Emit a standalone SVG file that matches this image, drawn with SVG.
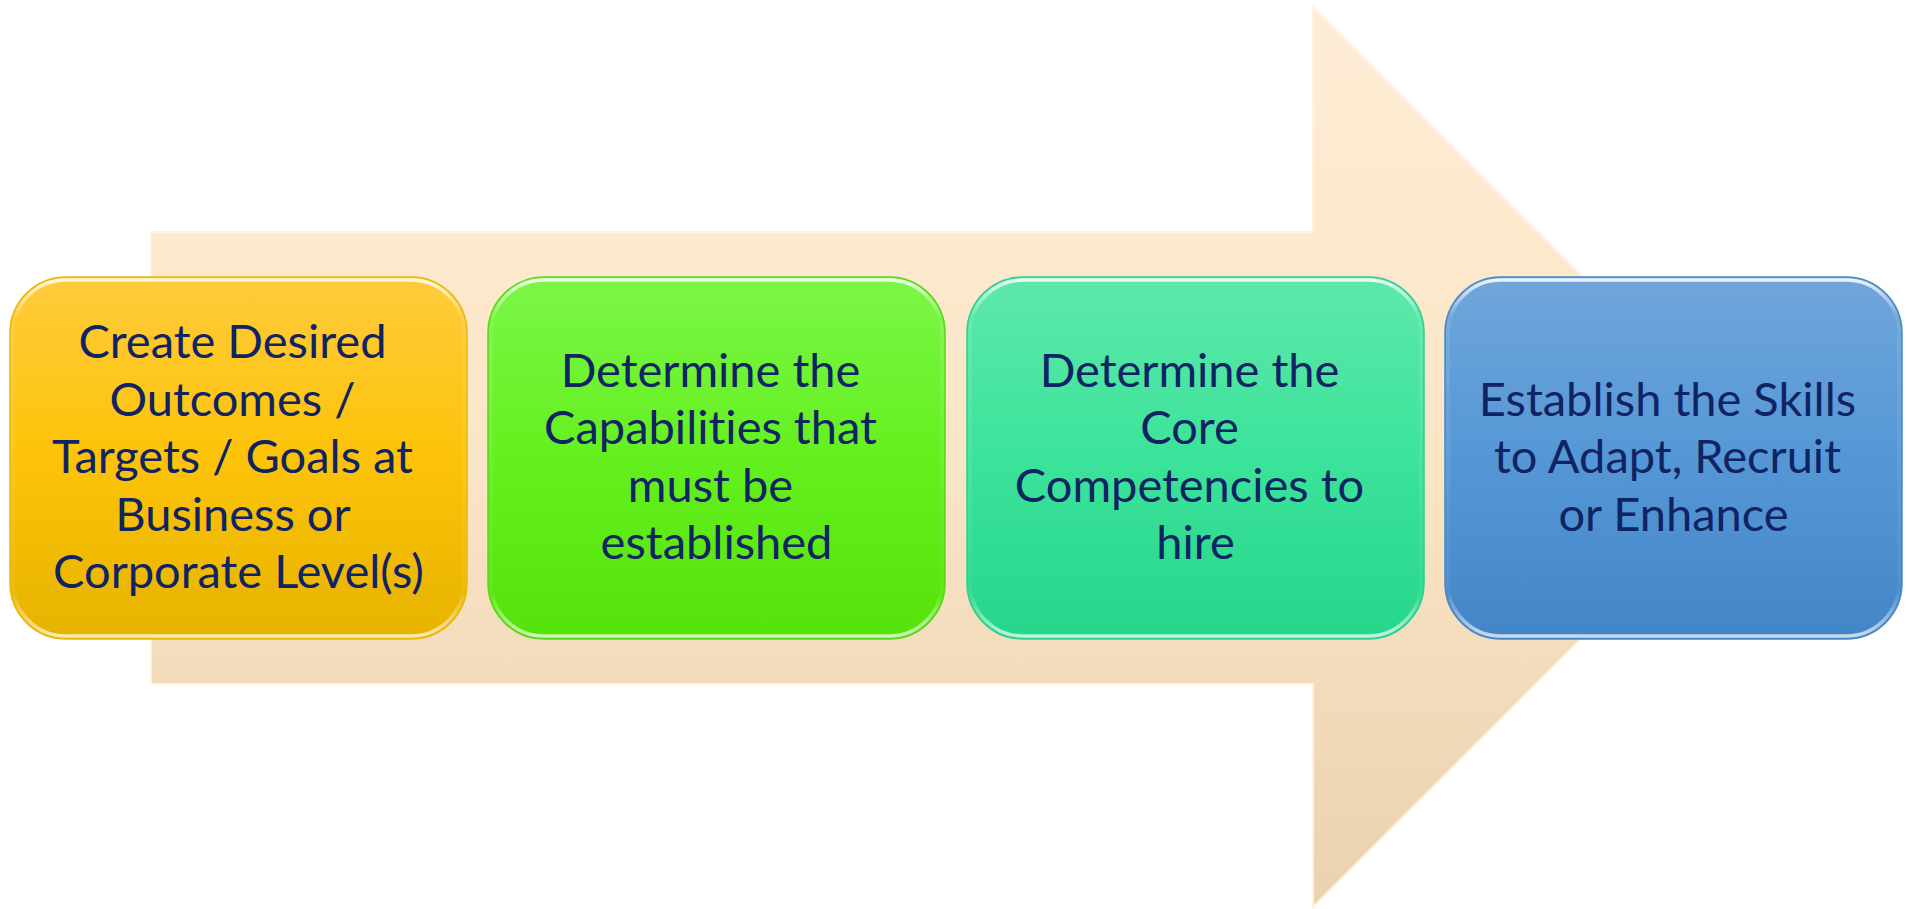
<svg xmlns="http://www.w3.org/2000/svg" width="1907" height="909" viewBox="0 0 1907 909">
  <defs>
    <linearGradient id="arrowFill" x1="0" y1="0" x2="0" y2="1">
      <stop offset="0" stop-color="#FEEDD5"/>
      <stop offset="0.5" stop-color="#FBE5C7"/>
      <stop offset="1" stop-color="#EAD2AF"/>
    </linearGradient>
    <linearGradient id="gOrange" x1="0" y1="0" x2="0" y2="1">
      <stop offset="0" stop-color="#FFCB3C"/>
      <stop offset="0.5" stop-color="#FDC308"/>
      <stop offset="1" stop-color="#E6B300"/>
    </linearGradient>
    <linearGradient id="gLime" x1="0" y1="0" x2="0" y2="1">
      <stop offset="0" stop-color="#7CF648"/>
      <stop offset="0.5" stop-color="#64F01E"/>
      <stop offset="1" stop-color="#55E20A"/>
    </linearGradient>
    <linearGradient id="gMint" x1="0" y1="0" x2="0" y2="1">
      <stop offset="0" stop-color="#5EE8A9"/>
      <stop offset="0.5" stop-color="#3CE39A"/>
      <stop offset="1" stop-color="#25D68B"/>
    </linearGradient>
    <linearGradient id="gBlue" x1="0" y1="0" x2="0" y2="1">
      <stop offset="0" stop-color="#70A6DB"/>
      <stop offset="0.5" stop-color="#5597D6"/>
      <stop offset="1" stop-color="#4386C7"/>
    </linearGradient>
    <!-- bevel rim: bright along the top and bottom edges, clear in the middle -->
    <linearGradient id="rim" x1="0" y1="0" x2="0" y2="1">
      <stop offset="0" stop-color="#FFFFFF" stop-opacity="0.85"/>
      <stop offset="0.1" stop-color="#FFFFFF" stop-opacity="0.1"/>
      <stop offset="0.88" stop-color="#FFFFFF" stop-opacity="0.05"/>
      <stop offset="1" stop-color="#FFFFFF" stop-opacity="0.7"/>
    </linearGradient>
  </defs>
  <style>
    .box { stroke-width: 1.5; }
    .rim { fill: none; stroke: url(#rim); stroke-width: 3.5; }
    .label { font-family: Lato, "Liberation Sans", sans-serif; font-size: 47px; fill: #102363; text-anchor: middle; font-variant-ligatures: none; }
  </style>

  <rect width="1907" height="909" fill="#FFFFFF"/>

  <!-- background process arrow -->
  <g id="connectors">
    <path d="M151,232 H1313 V7 L1763,457 L1313,907 V684 H151 Z" fill="url(#arrowFill)" stroke="#FFF4E4" stroke-width="2"/>
  </g>

  <g id="step1">
    <rect class="box" x="10" y="277" width="457" height="362" rx="56" fill="url(#gOrange)" stroke="#E9B80A"/>
    <rect class="rim" x="13" y="280" width="451" height="356" rx="53"/>
    <text class="label" x="238.5">
      <tspan x="238.5" y="358">Create Desired</tspan>
      <tspan x="238.5" y="415.5">Outcomes /</tspan>
      <tspan x="238.5" y="473">Targets / Goals at</tspan>
      <tspan x="238.5" y="530.5">Business or</tspan>
      <tspan x="238.5" y="588">Corporate Level(s)</tspan>
    </text>
  </g>

  <g id="step2">
    <rect class="box" x="488" y="277" width="457" height="362" rx="56" fill="url(#gLime)" stroke="#5BD61A"/>
    <rect class="rim" x="491" y="280" width="451" height="356" rx="53"/>
    <text class="label" x="716.5">
      <tspan x="716.5" y="386.75">Determine the</tspan>
      <tspan x="716.5" y="444.25">Capabilities that</tspan>
      <tspan x="716.5" y="501.75">must be</tspan>
      <tspan x="716.5" y="559.25">established</tspan>
    </text>
  </g>

  <g id="step3">
    <rect class="box" x="967" y="277" width="457" height="362" rx="56" fill="url(#gMint)" stroke="#2FCF8C"/>
    <rect class="rim" x="970" y="280" width="451" height="356" rx="53"/>
    <text class="label" x="1195.5">
      <tspan x="1195.5" y="386.75">Determine the</tspan>
      <tspan x="1195.5" y="444.25">Core</tspan>
      <tspan x="1195.5" y="501.75">Competencies to</tspan>
      <tspan x="1195.5" y="559.25">hire</tspan>
    </text>
  </g>

  <g id="step4">
    <rect class="box" x="1445" y="277" width="457" height="362" rx="56" fill="url(#gBlue)" stroke="#4A88C6"/>
    <rect class="rim" x="1448" y="280" width="451" height="356" rx="53"/>
    <text class="label" x="1673.5">
      <tspan x="1673.5" y="415.5">Establish the Skills</tspan>
      <tspan x="1673.5" y="473">to Adapt, Recruit</tspan>
      <tspan x="1673.5" y="530.5">or Enhance</tspan>
    </text>
  </g>
</svg>
